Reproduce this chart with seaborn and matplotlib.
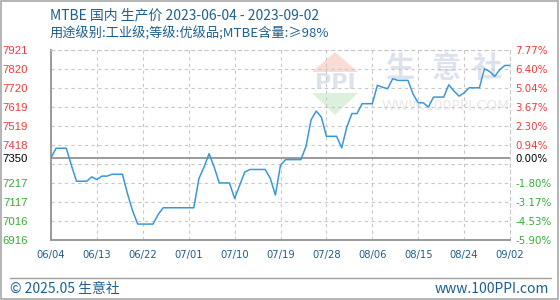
import numpy as np
import pandas as pd
import matplotlib
matplotlib.use('Agg')
import matplotlib.pyplot as plt
import seaborn as sns
from matplotlib.patches import Polygon, Rectangle
from matplotlib.lines import Line2D

# ---------------- data ----------------
dates = pd.date_range('2023-06-04', '2023-09-02', freq='D')
prices = [
    7350, 7400, 7400, 7400, 7310, 7226, 7226, 7226, 7249, 7235,
    7253, 7253, 7263, 7263, 7263, 7160, 7070, 7000, 7000, 7000,
    7000, 7050, 7086, 7086, 7086, 7086, 7086, 7086, 7086, 7240,
    7300, 7372, 7300, 7217, 7217, 7217, 7135, 7205, 7275, 7288,
    7288, 7288, 7288, 7241, 7153, 7311, 7340, 7340, 7340, 7340,
    7410, 7550, 7596, 7565, 7463, 7463, 7463, 7402, 7512, 7583,
    7583, 7635, 7635, 7635, 7732, 7722, 7714, 7767, 7758, 7758,
    7758, 7685, 7640, 7640, 7617, 7670, 7670, 7670, 7735, 7702,
    7675, 7692, 7719, 7719, 7719, 7819, 7805, 7779, 7815, 7837,
    7837,
]
base_price = 7350
y_grid = [6916, 7016.5, 7117, 7217.5, 7318, 7418.5, 7519, 7619.5, 7720, 7820.5, 7921]
left_labels = ['6916', '7016', '7117', '7217', '', '7418', '7519', '7619', '7720', '7820', '7921']
right_labels = ['-5.90%', '-4.53%', '-3.17%', '-1.80%', '', '0.94%', '2.30%', '3.67%', '5.04%', '6.40%', '7.77%']
base_label_left = '7350'
base_label_right = '0.00%'
x_tick_dates = dates[::9]
x_tick_labels = [d.strftime('%m/%d') for d in x_tick_dates]

title = 'MTBE 国内 生产价 2023-06-04 - 2023-09-02'
subtitle = '用途级别:工业级;等级:优级品;MTBE含量:≥98%'
footer_left = '© 2025.05 生意社'
footer_right = 'www.100PPI.com'

# ---------------- style ----------------
sns.set_theme(style='white')
plt.rcParams['font.family'] = ['DejaVu Sans']
cjk = ['Noto Sans CJK SC', 'DejaVu Sans']
lib = ['Liberation Sans', 'DejaVu Sans']
blue_txt = '#1f5f8c'
red = '#f03c3c'
green = '#3aaa3a'
W, H = 560, 300

def fx(x):
    return x / W

def fy(y):
    return 1 - y / H

fig = plt.figure(figsize=(W / 100, H / 100), dpi=100)
ax = fig.add_axes([fx(51), fy(240), (510 - 51) / W, (240 - 49.5) / H])
ax.set_facecolor('white')

df = pd.DataFrame({'date': dates, 'price': prices})
sns.lineplot(data=df, x='date', y='price', ax=ax, color='#3a98d8', lw=1.1, zorder=3)

ax.set_xlim(dates[0], dates[-1])
ax.set_ylim(y_grid[0], y_grid[-1])
ax.set_xlabel('')
ax.set_ylabel('')

ax.set_xticks(x_tick_dates)
ax.set_xticklabels(x_tick_labels, color=blue_txt, fontsize=7.2)
ax.set_yticks(y_grid)
ax.set_yticklabels(left_labels, fontsize=8.2, family=lib)
ax.set_yticks([base_price], minor=True)
ax.set_yticklabels([base_label_left], minor=True, fontsize=8.2, family=lib)
for v, t in zip(y_grid, ax.get_yticklabels()):
    t.set_color(red if v > base_price else green)
for t in ax.get_yticklabels(minor=True):
    t.set_color('black')
ax.tick_params(axis='y', which='both', length=0, pad=16.5)
ax.tick_params(axis='x', length=0, pad=7)

ax.grid(True, which='major', ls=(0, (3, 3)), color='#c8c8c8', lw=0.8)
ax.set_axisbelow(True)
ax.axhline(base_price, color='#9a9a9a', lw=1.4, zorder=2)

for s in ['left', 'bottom']:
    ax.spines[s].set_color('#9a9a9a')
    ax.spines[s].set_linewidth(1.4)
for s in ['top', 'right']:
    ax.spines[s].set_color('#c8c8c8')
    ax.spines[s].set_linewidth(0.8)
    ax.spines[s].set_linestyle((0, (3, 3)))

ax2 = ax.twinx()
ax2.set_ylim(y_grid[0], y_grid[-1])
ax2.set_yticks(y_grid)
ax2.set_yticklabels(right_labels, fontsize=7.4)
ax2.set_yticks([base_price], minor=True)
ax2.set_yticklabels([base_label_right], minor=True, fontsize=7.4)
for v, t in zip(y_grid, ax2.get_yticklabels()):
    t.set_color(red if v > base_price else green)
for t in ax2.get_yticklabels(minor=True):
    t.set_color('black')
ax2.tick_params(axis='y', which='both', length=0, pad=3.6)
ax2.grid(False)
for s in ax2.spines.values():
    s.set_visible(False)

# ---------------- watermark (behind grid) ----------------
wm_kw = dict(transform=fig.transFigure, clip_on=False, zorder=0.1)
ax.add_patch(Polygon([(fx(312), fy(72)), (fx(358), fy(72)), (fx(335), fy(52))],
                     closed=True, fc='#fadcd6', ec='none', **wm_kw))
ax.add_patch(Polygon([(fx(312), fy(93)), (fx(358), fy(93)), (fx(335), fy(115))],
                     closed=True, fc='#dcf0dc', ec='none', **wm_kw))
ax.text(fx(335), fy(83), 'PPI', ha='center', va='center', fontsize=16,
        fontweight='bold', color='#dde2ec', **wm_kw)
for cx, ch in zip([399.5, 446, 487.5], '生意社'):
    ax.text(fx(cx), fy(68.5), ch, ha='center', va='center', fontsize=21,
            fontweight='bold', family=cjk, color='#dde2ec', **wm_kw)
ax.text(fx(446), fy(106), 'WWW.100PPI.COM', ha='center', va='center', fontsize=10,
        color='#e8e8e8', **wm_kw)

# ---------------- texts ----------------
fig.text(fx(50), fy(15.5), title, ha='left', va='center', fontsize=10,
         family=cjk, color=blue_txt)
fig.text(fx(50), fy(33.5), subtitle, ha='left', va='center', fontsize=9.5,
         family=cjk, color=blue_txt)
fig.text(fx(10.5), fy(289), footer_left, ha='left', va='center', fontsize=10,
         family=cjk, color=blue_txt)
fig.text(fx(549), fy(289), footer_right, ha='right', va='center', fontsize=10,
         family=cjk, color=blue_txt)

fig.add_artist(Line2D([fx(10), fx(551)], [fy(277.5), fy(277.5)],
                      transform=fig.transFigure, color='#a0a0a0', lw=1.0))
fig.add_artist(Rectangle((fx(0.7), fy(299.3)), fx(558) - fx(0.7), fy(0.7) - fy(299.3),
                         transform=fig.transFigure, fill=False, ec='#a8a8a8', lw=1.2))

fig.savefig('out.png', dpi=100)
